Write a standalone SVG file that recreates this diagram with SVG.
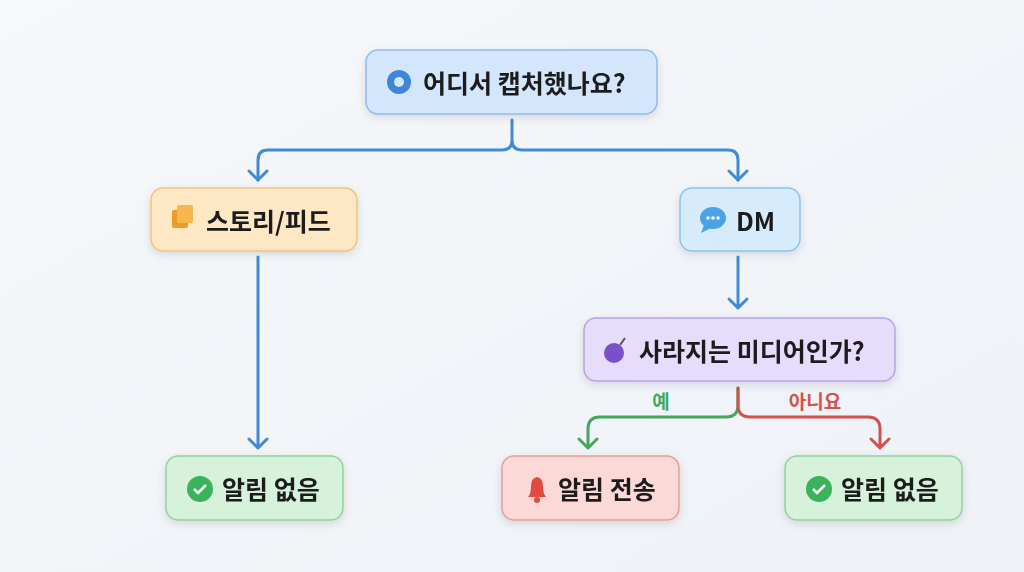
<svg xmlns="http://www.w3.org/2000/svg" width="1024" height="572" viewBox="0 0 1024 572">
<style>
text{font-family:"Noto Sans CJK KR","Noto Sans",sans-serif;font-weight:700;font-size:25px;fill:#1a1a1a;dominant-baseline:central}
.box{stroke-width:1.5}
.c{fill:none;stroke-width:3;stroke-linecap:round;stroke-linejoin:round}
text.g{font-size:19px;font-weight:600;fill:#43a85c}
text.r{font-size:19px;font-weight:600;fill:#d2524b}
</style>
<defs>
<linearGradient id="bg" x1="0" y1="0" x2="1" y2="1"><stop offset="0" stop-color="#f6f8fb"/><stop offset="1" stop-color="#eef1f6"/></linearGradient>
<filter id="sh" x="-20%" y="-30%" width="140%" height="170%"><feDropShadow dx="0" dy="3" stdDeviation="4" flood-opacity="0.12"/></filter>
</defs>
<rect width="1024" height="572" fill="url(#bg)"/>
<g id="connectors">
<path class="c" stroke="#3f8bd6" d="M512 120V140Q512 150 502 150H268Q258 150 258 160V180M512 140Q512 150 522 150H728Q738 150 738 160V180"/>
<path class="c" stroke="#3f8bd6" d="M249 171L258 180L267 171M729 171L738 180L747 171"/>
<path class="c" stroke="#3f8bd6" d="M258 257V448M249 439L258 448L267 439"/>
<path class="c" stroke="#3f8bd6" d="M738 257V308M729 299L738 308L747 299"/>
<path class="c" stroke="#43a85c" d="M738 388V405Q738 417 726 417H600Q588 417 588 429V448M579 439L588 448L597 439"/>
<path class="c" stroke="#d2524b" d="M738 388V405Q738 417 750 417H868Q880 417 880 429V448M871 439L880 448L889 439"/>
<text class="g" x="661" y="400" text-anchor="middle">예</text>
<text class="r" x="815" y="400" text-anchor="middle">아니요</text>
</g>
<g id="n1" filter="url(#sh)"><rect class="box" x="366" y="50" width="291" height="64" rx="12" fill="#d4e6fb" stroke="#8fbbea"/>
<circle cx="399" cy="82" r="12" fill="#3d87d4"/><circle cx="399" cy="82" r="5" fill="#d4e6fb"/>
<text x="423" y="82">어디서 캡처했나요?</text></g>
<g id="n2" filter="url(#sh)"><rect class="box" x="151" y="188" width="206" height="63" rx="12" fill="#fde7c4" stroke="#f3c27a"/>
<rect x="172" y="210" width="16" height="18" rx="2" fill="#e99c2c"/><rect x="177" y="205" width="16" height="18" rx="2" fill="#f6b84e"/>
<text x="206" y="220">스토리/피드</text></g>
<g id="n3" filter="url(#sh)"><rect class="box" x="680" y="188" width="120" height="63" rx="12" fill="#d6ebfb" stroke="#8cc3ee"/>
<ellipse cx="713" cy="218" rx="13" ry="11" fill="#4aa3e6"/><path d="M704 225L701 233L711 228Z" fill="#4aa3e6"/>
<circle cx="708" cy="218" r="1.8" fill="#fff"/><circle cx="713" cy="218" r="1.8" fill="#fff"/><circle cx="718" cy="218" r="1.8" fill="#fff"/>
<text x="736" y="220">DM</text></g>
<g id="n4" filter="url(#sh)"><rect class="box" x="584" y="318" width="311" height="63" rx="12" fill="#e6dcfb" stroke="#b7a2e8"/>
<circle cx="614" cy="353" r="10" fill="#7a4fc9"/><path d="M620 345L625 338" stroke="#555" stroke-width="2"/>
<text x="639" y="350">사라지는 미디어인가?</text></g>
<g id="n5" filter="url(#sh)"><rect class="box" x="166" y="456" width="177" height="64" rx="12" fill="#d6f2da" stroke="#8fd39b"/>
<circle cx="200" cy="489" r="13" fill="#3bb35a"/><path d="M194 489L198 493L206 485" stroke="#fff" stroke-width="2.5" fill="none"/>
<text x="222" y="488">알림 없음</text></g>
<g id="n6" filter="url(#sh)"><rect class="box" x="502" y="456" width="177" height="64" rx="12" fill="#fbd9d7" stroke="#ee9a94"/>
<path d="M528 497Q531 494 531 486Q531 478 537 477Q543 478 543 486Q543 494 546 497Z" fill="#e24a3f"/><circle cx="537" cy="500" r="3" fill="#e24a3f"/>
<text x="558" y="488">알림 전송</text></g>
<g id="n7" filter="url(#sh)"><rect class="box" x="785" y="456" width="177" height="64" rx="12" fill="#d6f2da" stroke="#8fd39b"/>
<circle cx="819" cy="489" r="13" fill="#3bb35a"/><path d="M813 489L817 493L825 485" stroke="#fff" stroke-width="2.5" fill="none"/>
<text x="841" y="488">알림 없음</text></g>
</svg>
